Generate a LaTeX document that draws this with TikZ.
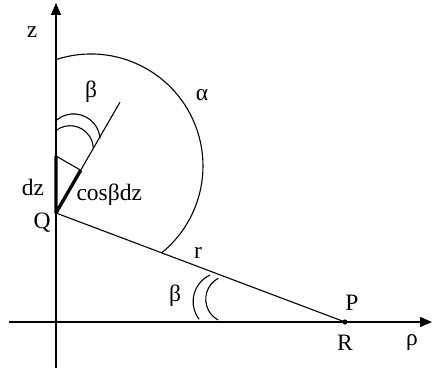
\documentclass[tikz,border=0pt]{standalone}
\usepackage{fontspec}
\setmainfont{Liberation Serif}
\usetikzlibrary{arrows.meta,calc}

\begin{document}
\begin{tikzpicture}[x=1pt,y=1pt,line width=1.1pt,>={Triangle[length=12pt,width=10pt]},
  font=\fontsize{23.5}{27}\selectfont,heavy/.style={line width=3.3pt,line join=round}]
  \useasboundingbox (-56,-50) rectangle (376,322);
  % axes
  \coordinate (O) at (0,0);
  \coordinate (zlow) at (0,-46);
  \coordinate (ztip) at (0,319);
  \coordinate (rholow) at (-47,0);
  \coordinate (rhotip) at (376,0);
  \draw[->] (rholow) -- (rhotip);
  \draw[->] (zlow) -- (ztip);
  % source point, field point
  \coordinate (Q) at (0,109);
  \coordinate (P) at (289,0);
  \fill (P) circle[radius=2.6];
  \draw (Q) -- (P);
  \coordinate (dir) at ($(Q)+(60:128)$);
  \draw (Q) -- (dir);
  % dz and its projection
  \coordinate (dztop) at (0,166);
  \coordinate (foot) at ($(Q)+(60:49.4)$);
  \draw (dztop) -- (foot);
  \draw[heavy] (dztop) -- (Q) -- (foot);
  % angle marks
  \draw (0,262.4) arc[start angle=108.2,end angle=-50.9,radius=112];
  \draw (0.7,202) arc[start angle=129.6,end angle=4.5,radius=26.5];
  \draw (0.7,192) arc[start angle=125.3,end angle=3,radius=23.2];
  \draw (154,47) arc[start angle=115.2,end angle=217,radius=29.4];
  \draw (162.3,43.7) arc[start angle=117.8,end angle=242,radius=23.6];
  % labels
  \node (zlab) at (-24,290) {z};
  \node (rholab) at (356,-20) {ρ};
  \node (betatop) at (35,230) {β};
  \node (alphalab) at (146,227) {α};
  \node (dzlab) at (-23,135) {dz};
  \node[anchor=west,inner sep=0pt] (projlab) at (20,127) {cosβdz};
  \node (Qlab) at (-14,99) {Q};
  \node (rlab) at (142,69) {r};
  \node (betalow) at (119,26) {β};
  \node (Plab) at (296,19) {P};
  \node (Rlab) at (289,-21) {R};
\end{tikzpicture}
\end{document}
